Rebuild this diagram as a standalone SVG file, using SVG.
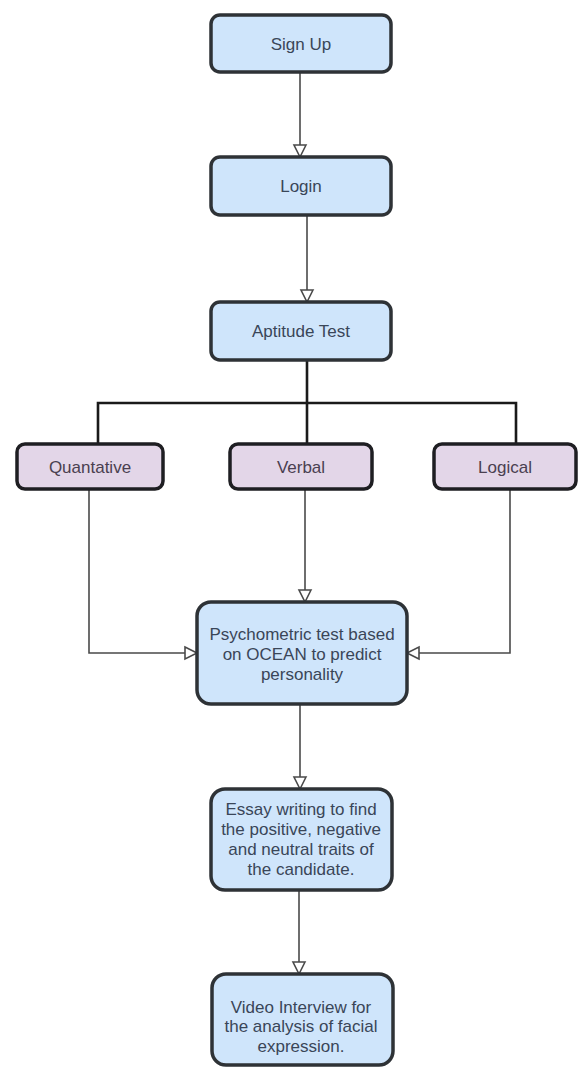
<svg xmlns="http://www.w3.org/2000/svg" width="580" height="1069" viewBox="0 0 580 1069">
<style>
.b{fill:#cfe5fb;stroke:#2e3236;stroke-width:3.5}
.p{fill:#e3d6e8;stroke:#1e1e22;stroke-width:3.5}
.t{font-family:"Liberation Sans",Arial,sans-serif;font-size:17px;fill:#3a4658;text-anchor:middle}
.tp{font-family:"Liberation Sans",Arial,sans-serif;font-size:17px;fill:#4a4050;text-anchor:middle}
.c{fill:none;stroke:#4a4a4a;stroke-width:1.6}
.k{fill:none;stroke:#1a1a1a;stroke-width:2.6}
</style>
<defs>
<marker id="ar" markerUnits="userSpaceOnUse" markerWidth="16" markerHeight="16" refX="13" refY="7" orient="auto" viewBox="0 0 16 14">
<path d="M1,1 L13,7 L1,13 z" fill="#fff" stroke="#4a4a4a" stroke-width="1.6"/>
</marker>
</defs>
<rect width="580" height="1069" fill="#fff"/>
<g id="connectors">
<path class="c" d="M300,72 V157" marker-end="url(#ar)"/>
<path class="c" d="M307,215 V302" marker-end="url(#ar)"/>
<path class="k" d="M307,360 V444"/>
<path class="k" d="M98,444 V403 H516 V444"/>
<path class="c" d="M89,489 V653 H197" marker-end="url(#ar)"/>
<path class="c" d="M305,489 V602" marker-end="url(#ar)"/>
<path class="c" d="M510,489 V653 H407" marker-end="url(#ar)"/>
<path class="c" d="M300,704 V789" marker-end="url(#ar)"/>
<path class="c" d="M299,890 V974" marker-end="url(#ar)"/>
</g>
<g id="signup"><rect class="b" x="211" y="15" width="180" height="57" rx="9"/><text class="t" x="301" y="50">Sign Up</text></g>
<g id="login"><rect class="b" x="211" y="157" width="180" height="58" rx="9"/><text class="t" x="301" y="192">Login</text></g>
<g id="aptitude"><rect class="b" x="211" y="302" width="180" height="58" rx="9"/><text class="t" x="301" y="337">Aptitude Test</text></g>
<g id="quantative"><rect class="p" x="17" y="444" width="146" height="45" rx="8"/><text class="tp" x="90" y="473">Quantative</text></g>
<g id="verbal"><rect class="p" x="230" y="444" width="142" height="45" rx="8"/><text class="tp" x="301" y="473">Verbal</text></g>
<g id="logical"><rect class="p" x="434" y="444" width="142" height="45" rx="8"/><text class="tp" x="505" y="473">Logical</text></g>
<g id="psychometric"><rect class="b" x="197" y="602" width="210" height="102" rx="14"/>
<text class="t" x="302" y="640">Psychometric test based</text>
<text class="t" x="302" y="660">on OCEAN to predict</text>
<text class="t" x="302" y="680">personality</text></g>
<g id="essay"><rect class="b" x="211" y="789" width="181" height="101" rx="14"/>
<text class="t" x="301" y="815">Essay writing to find</text>
<text class="t" x="301" y="835">the positive, negative</text>
<text class="t" x="301" y="855">and neutral traits of</text>
<text class="t" x="301" y="875">the candidate.</text></g>
<g id="video"><rect class="b" x="212" y="974" width="181" height="91" rx="14"/>
<text class="t" x="301" y="1013">Video Interview for</text>
<text class="t" x="301" y="1032">the analysis of facial</text>
<text class="t" x="301" y="1052">expression.</text></g>
</svg>
